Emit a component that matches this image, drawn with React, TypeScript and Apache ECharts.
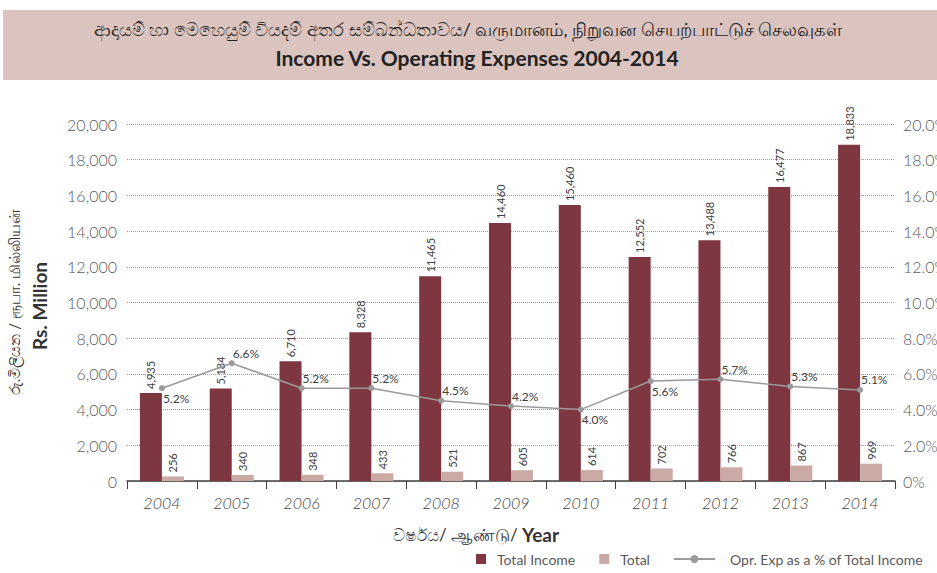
import React, { useEffect, useRef } from "react";
import * as echarts from "echarts";

const years = ["2004", "2005", "2006", "2007", "2008", "2009", "2010", "2011", "2012", "2013", "2014"];
const totalIncome = [4935, 5184, 6710, 8328, 11465, 14460, 15460, 12552, 13488, 16477, 18833];
const totalOprExp = [256, 340, 348, 433, 521, 605, 614, 702, 766, 867, 969];
const oprExpPct = [5.2, 6.6, 5.2, 5.2, 4.5, 4.2, 4.0, 5.6, 5.7, 5.3, 5.1];

const titleLine1 = "ආදායම් හා මෙහෙයුම් වියදම් අතර සම්බන්ධතාවය/ வருமானம், நிறுவன செயற்பாட்டுச் செலவுகள்";
const titleLine2 = "Income Vs. Operating Expenses 2004-2014";
const yNameLocal = "රු.මිලියන / ரூபா. மில்லியன்";
const yNameEn = "Rs. Million";
const xNameLocal = "වර්ෂය/ ஆண்டு/ ";
const xNameEn = "Year";
const seriesNames = ["Total Income", "Total", "Opr. Exp as a % of Total Income"];

const FONT = "Lato, 'Open Sans', sans-serif";

export default function App() {
  const ref = useRef<HTMLDivElement>(null);
  useEffect(() => {
    if (!ref.current) return;
    const chart = echarts.init(ref.current, undefined, { renderer: "svg" });
    const below = new Set([0, 6, 7]);
    const fmt = (v: number) => v.toLocaleString("en-US");
    chart.setOption({
      animation: false,
      textStyle: { fontFamily: FONT },
      graphic: [
        { type: "rect", left: 3, top: 10, shape: { width: 934, height: 70 }, style: { fill: "#dbc3bf" }, z: -1 },
        {
          type: "text", x: 468, y: 29,
          style: { text: titleLine1, fill: "#222", font: `18px ${FONT}`, textAlign: "center", textVerticalAlign: "middle" },
        },
        {
          type: "text", x: 477, y: 57,
          style: { text: titleLine2, fill: "#222", font: `bold 21px 'Liberation Sans Narrow', ${FONT}`, textAlign: "center", textVerticalAlign: "middle" },
        },
        {
          type: "text", x: 14, y: 302, rotation: Math.PI / 2,
          style: { text: yNameLocal, fill: "#333", font: `15px ${FONT}`, textAlign: "center", textVerticalAlign: "middle" },
        },
        {
          type: "text", x: 39, y: 306, rotation: Math.PI / 2,
          style: { text: yNameEn, fill: "#333", font: `bold 19px ${FONT}`, textAlign: "center", textVerticalAlign: "middle" },
        },
        {
          type: "text", x: 476, y: 534,
          style: {
            text: `{a|${xNameLocal}}{b|${xNameEn}}`,
            textAlign: "center", textVerticalAlign: "middle",
            rich: {
              a: { fontSize: 17, fill: "#333", fontFamily: FONT },
              b: { fontSize: 19, fontWeight: "bold", fill: "#333", fontFamily: FONT },
            },
          },
        },
      ],
      legend: [
        {
          data: [seriesNames[0], seriesNames[1]],
          left: 476, top: 552, padding: 0, itemGap: 24,
          itemWidth: 10, itemHeight: 10, icon: "rect",
          textStyle: { fontSize: 14, color: "#595959", fontFamily: FONT, padding: [0, 0, 0, 6] },
        },
        {
          data: [seriesNames[2]],
          left: 673, top: 552, padding: 0,
          itemWidth: 41, itemHeight: 10,
          textStyle: { fontSize: 14, color: "#595959", fontFamily: FONT, padding: [0, 0, 0, 10] },
        },
      ],
      grid: { left: 127, right: 42, top: 124, bottom: 92, containLabel: false, outerBoundsMode: "none" },
      xAxis: {
        type: "category",
        data: years,
        boundaryGap: true,
        axisLine: { lineStyle: { color: "#404040", width: 1.5 } },
        axisTick: { show: true, length: 8, lineStyle: { color: "#404040" } },
        axisLabel: { fontSize: 16, fontStyle: "italic", fontWeight: 300, color: "#404040", margin: 13, fontFamily: FONT },
      },
      yAxis: [
        {
          type: "value", min: 0, max: 20000, interval: 2000,
          axisLine: { show: false }, axisTick: { show: false },
          splitLine: { lineStyle: { type: "dotted", color: "#9a9a9a", width: 1 } },
          axisLabel: { fontSize: 16, fontWeight: 300, color: "#595959", margin: 10, fontFamily: FONT, formatter: (v: number) => fmt(v) },
        },
        {
          type: "value", min: 0, max: 20, interval: 2,
          axisLine: { show: false }, axisTick: { show: false },
          splitLine: { show: false },
          axisLabel: {
            fontSize: 16, fontWeight: 300, color: "#595959", margin: 8, fontFamily: FONT,
            formatter: (v: number) => (v === 0 ? "0%" : v.toFixed(1) + "%"),
          },
        },
      ],
      series: [
        {
          name: seriesNames[0], type: "bar", data: totalIncome, barWidth: 22, barGap: "0%",
          itemStyle: { color: "#7e3641" },
          label: {
            show: true, position: "top", rotate: 90, align: "left", verticalAlign: "middle", distance: 4,
            fontSize: 11, color: "#404040", fontFamily: FONT, formatter: (p: any) => fmt(p.value),
          },
        },
        {
          name: seriesNames[1], type: "bar", data: totalOprExp, barWidth: 22, barGap: "0%",
          itemStyle: { color: "#cba9a4" },
          label: {
            show: true, position: "top", rotate: 90, align: "left", verticalAlign: "middle", distance: 4,
            fontSize: 11, color: "#404040", fontFamily: FONT, formatter: (p: any) => fmt(p.value),
          },
        },
        {
          name: seriesNames[2], type: "line", yAxisIndex: 1, z: 5,
          symbol: "circle", symbolSize: 6,
          lineStyle: { color: "#9a9a9a", width: 1.5 },
          itemStyle: { color: "#9a9a9a" },
          data: oprExpPct.map((v, i) => ({
            value: v,
            label: {
              show: true, position: "right", distance: 0,
              offset: below.has(i) ? [-2, 10] : [-2, -10],
              fontSize: 12, color: "#404040", fontFamily: FONT,
              formatter: (p: any) => Number(p.value).toFixed(1) + "%",
            },
          })),
        },
      ],
    });
    return () => chart.dispose();
  }, []);
  return <div ref={ref} style={{ width: 937, height: 573, position: "absolute", left: 0, top: 0 }} />;
}
